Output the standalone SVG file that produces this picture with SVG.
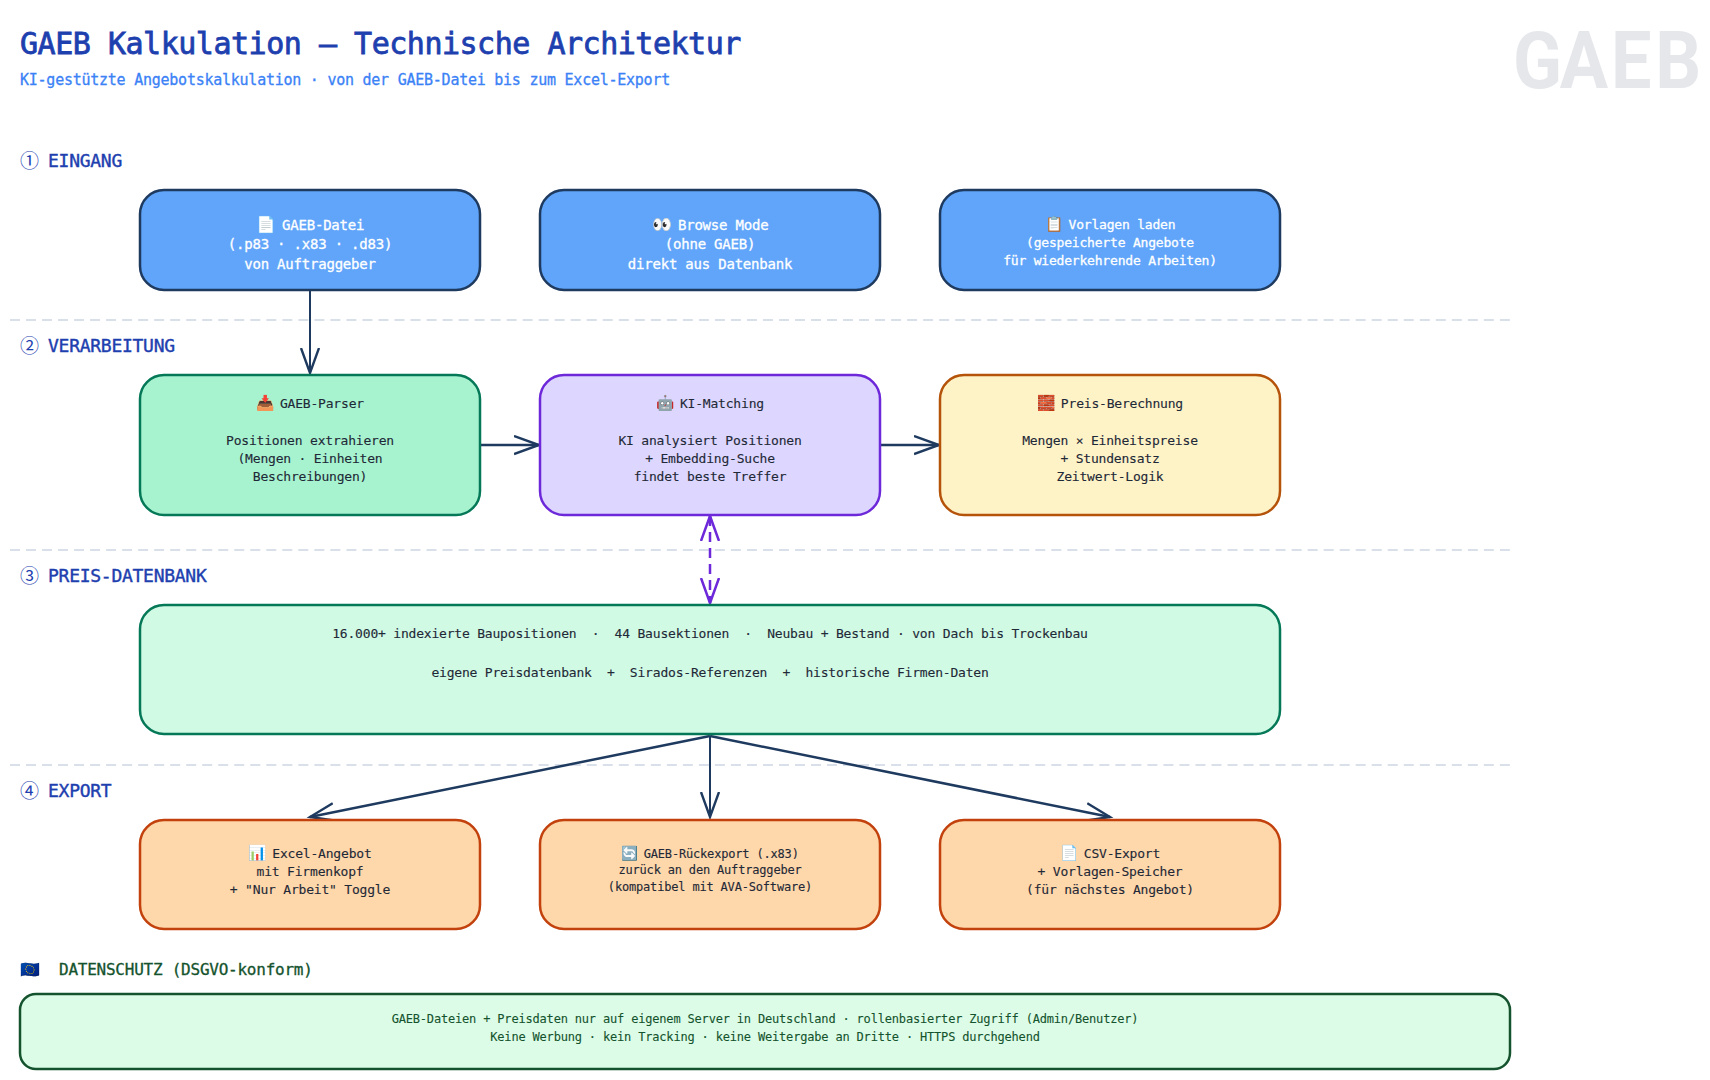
<svg xmlns="http://www.w3.org/2000/svg" width="1710" height="1080" viewBox="0 0 1710 1080">
<style>
text{font-family:"DejaVu Sans Mono","Liberation Mono",monospace;text-anchor:middle;letter-spacing:-0.015em}
.l{text-anchor:start}
.e{stroke:none}
.em{stroke:none;font-size:1.14em;letter-spacing:-.12em}
.ck{font-family:"Noto Sans CJK JP",sans-serif;font-weight:400;font-size:19px;stroke:none;letter-spacing:0}
.sec{font-size:18px;fill:#1e40af;stroke:#1e40af;stroke-width:.4}
.box{stroke-width:2.5}
.blue{fill:#60a5fa;stroke:#1e3a5f}
.green{fill:#a7f3d0;stroke:#047857}
.purple{fill:#ddd6fe;stroke:#6d28d9}
.yellow{fill:#fef3c7;stroke:#b45309}
.mint{fill:#d1fae5;stroke:#047857}
.orange{fill:#fed7aa;stroke:#c2410c}
.w{fill:#fff;stroke:#fff;stroke-width:.3;font-size:14px}
.w13{font-size:13px}
.d{fill:#1f2937;stroke:#1f2937;stroke-width:.12;font-size:13px}
.d12{font-size:12px}
.g{fill:#14532d;stroke:#14532d;stroke-width:.1;font-size:12px}
.dash{stroke:#d9e0ea;stroke-width:2;stroke-dasharray:10 6.02}
.c{fill:none;stroke:#1e3a5f;stroke-width:2.5}
.v{stroke-width:2}
.p{fill:none;stroke:#6d28d9;stroke-width:2.5;stroke-dasharray:10 6}
</style>
<defs>
<marker id="a" markerUnits="userSpaceOnUse" markerWidth="30" markerHeight="24" refX="25" refY="10" orient="auto"><path d="M0 1L25 10L0 19" fill="none" stroke="#1e3a5f" stroke-width="2.4"/></marker>
<marker id="b" markerUnits="userSpaceOnUse" markerWidth="30" markerHeight="24" refX="25" refY="10" orient="auto-start-reverse"><path d="M0 1L25 10L0 19" fill="none" stroke="#6d28d9" stroke-width="2.5"/></marker>
</defs>
<g id="header">
<text class="l" x="20" y="54" font-size="30" fill="#1e40af" stroke="#1e40af" stroke-width=".8" style="letter-spacing:-.016em">GAEB Kalkulation — Technische Architektur</text>
<text class="l" x="20" y="85" font-size="15" fill="#3b82f6" stroke="#3b82f6" stroke-width=".3" style="letter-spacing:-.0165em">KI-gestützte Angebotskalkulation · von der GAEB-Datei bis zum Excel-Export</text>
<text class="l" transform="translate(1513 88) scale(.9 1)" x="0 52 109 158" y="0" font-size="80" font-weight="700" fill="#e5e7eb" style="font-family:Roboto,'Noto Sans',sans-serif;letter-spacing:0">GAEB</text>
</g>
<g id="dividers">
<line class="dash" x1="10" y1="320" x2="1510" y2="320"/>
<line class="dash" x1="10" y1="550" x2="1510" y2="550"/>
<line class="dash" x1="10" y1="765" x2="1510" y2="765"/>
</g>
<g id="sections">
<text class="l sec" x="20" y="167"><tspan class="ck" y="168">①</tspan><tspan x="48" y="167">EINGANG</tspan></text>
<text class="l sec" x="20" y="352"><tspan class="ck" y="353">②</tspan><tspan x="48" y="352">VERARBEITUNG</tspan></text>
<text class="l sec" x="20" y="582"><tspan class="ck" y="583">③</tspan><tspan x="48" y="582">PREIS-DATENBANK</tspan></text>
<text class="l sec" x="20" y="797"><tspan class="ck" y="798">④</tspan><tspan x="48" y="797">EXPORT</tspan></text>
<text class="l" x="20" y="975" font-size="16" fill="#14532d" stroke="#14532d" stroke-width=".3"><tspan class="e">🇪🇺</tspan><tspan x="59">DATENSCHUTZ (DSGVO-konform)</tspan></text>
</g>
<g id="connectors">
<path class="c v" marker-end="url(#a)" d="M310 290V373"/>
<path class="c" marker-end="url(#a)" d="M480 445H539"/>
<path class="c" marker-end="url(#a)" d="M880 445H939"/>
<path class="p" marker-start="url(#b)" marker-end="url(#b)" d="M710 516V603"/>
<path class="c" marker-end="url(#a)" d="M710 736L310 817"/>
<path class="c v" marker-end="url(#a)" d="M710 736V817"/>
<path class="c" marker-end="url(#a)" d="M710 736L1110 817"/>
</g>
<g id="n1"><rect class="box blue" x="140" y="190" width="340" height="100" rx="24"/>
<text class="w" x="310" y="230"><tspan class="em">📄</tspan> GAEB-Datei</text><text class="w" x="310" y="249">(.p83 · .x83 · .d83)</text><text class="w" x="310" y="269">von Auftraggeber</text></g>
<g id="n2"><rect class="box blue" x="540" y="190" width="340" height="100" rx="24"/>
<text class="w" x="710" y="230"><tspan class="em">👀</tspan> Browse Mode</text><text class="w" x="710" y="249">(ohne GAEB)</text><text class="w" x="710" y="269">direkt aus Datenbank</text></g>
<g id="n3"><rect class="box blue" x="940" y="190" width="340" height="100" rx="24"/>
<text class="w w13" x="1110" y="229"><tspan class="em">📋</tspan> Vorlagen laden</text><text class="w w13" x="1110" y="247">(gespeicherte Angebote</text><text class="w w13" x="1110" y="265">für wiederkehrende Arbeiten)</text></g>
<g id="n4"><rect class="box green" x="140" y="375" width="340" height="140" rx="24"/>
<text class="d" x="310" y="408"><tspan class="em">📥</tspan> GAEB-Parser</text><text class="d" x="310" y="445">Positionen extrahieren</text><text class="d" x="310" y="462.5">(Mengen · Einheiten</text><text class="d" x="310" y="481">Beschreibungen)</text></g>
<g id="n5"><rect class="box purple" x="540" y="375" width="340" height="140" rx="24"/>
<text class="d" x="710" y="408"><tspan class="em">🤖</tspan> KI-Matching</text><text class="d" x="710" y="445">KI analysiert Positionen</text><text class="d" x="710" y="462.5">+ Embedding-Suche</text><text class="d" x="710" y="481">findet beste Treffer</text></g>
<g id="n6"><rect class="box yellow" x="940" y="375" width="340" height="140" rx="24"/>
<text class="d" x="1110" y="408"><tspan class="em">🧱</tspan> Preis-Berechnung</text><text class="d" x="1110" y="445">Mengen × Einheitspreise</text><text class="d" x="1110" y="462.5">+ Stundensatz</text><text class="d" x="1110" y="481">Zeitwert-Logik</text></g>
<g id="n7"><rect class="box mint" x="140" y="605" width="1140" height="129" rx="24"/>
<text class="d" x="710" y="638" xml:space="preserve">16.000+ indexierte Baupositionen  ·  44 Bausektionen  ·  Neubau + Bestand · von Dach bis Trockenbau</text>
<text class="d" x="710" y="677" xml:space="preserve">eigene Preisdatenbank  +  Sirados-Referenzen  +  historische Firmen-Daten</text></g>
<g id="n8"><rect class="box orange" x="140" y="820" width="340" height="109" rx="24"/>
<text class="d" x="310" y="858"><tspan class="em">📊</tspan> Excel-Angebot</text><text class="d" x="310" y="876">mit Firmenkopf</text><text class="d" x="310" y="894">+ "Nur Arbeit" Toggle</text></g>
<g id="n9"><rect class="box orange" x="540" y="820" width="340" height="109" rx="24"/>
<text class="d d12" x="710" y="858"><tspan class="em">🔄</tspan> GAEB-Rückexport (.x83)</text><text class="d d12" x="710" y="874">zurück an den Auftraggeber</text><text class="d d12" x="710" y="891">(kompatibel mit AVA-Software)</text></g>
<g id="n10"><rect class="box orange" x="940" y="820" width="340" height="109" rx="24"/>
<text class="d" x="1110" y="858"><tspan class="em">📄</tspan> CSV-Export</text><text class="d" x="1110" y="876">+ Vorlagen-Speicher</text><text class="d" x="1110" y="894">(für nächstes Angebot)</text></g>
<g id="n11"><rect x="20" y="994" width="1490" height="75" rx="16" fill="#dcfce7" stroke="#14532d" stroke-width="2.5"/>
<text class="g" x="765" y="1023">GAEB-Dateien + Preisdaten nur auf eigenem Server in Deutschland · rollenbasierter Zugriff (Admin/Benutzer)</text>
<text class="g" x="765" y="1041">Keine Werbung · kein Tracking · keine Weitergabe an Dritte · HTTPS durchgehend</text></g>
</svg>
